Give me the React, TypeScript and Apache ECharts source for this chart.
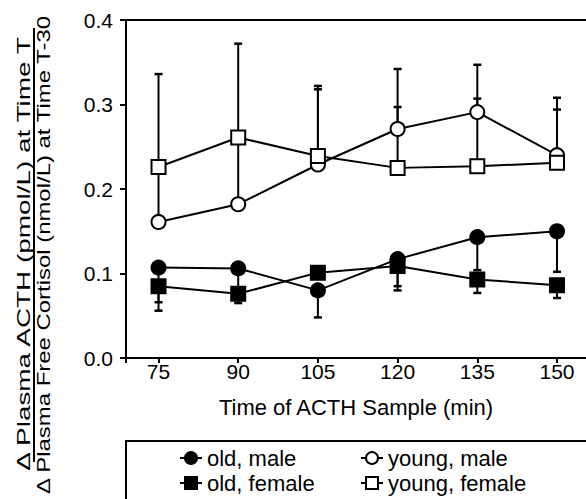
import React, { useEffect, useRef } from 'react';
import * as echarts from 'echarts';

const times = [75, 90, 105, 120, 135, 150];
const xTicks = [75, 90, 105, 120, 135, 150];
const yTicks = [0, 0.1, 0.2, 0.3, 0.4];

const oldMale = [0.107, 0.106, 0.080, 0.117, 0.143, 0.150];
const oldMaleErrEnd = [0.066, 0.080, 0.048, 0.085, 0.104, 0.102];
const oldFemale = [0.085, 0.076, 0.101, 0.109, 0.093, 0.086];
const oldFemaleErrEnd = [0.056, 0.065, 0.095, 0.080, 0.077, 0.071];
const youngMale = [0.161, 0.182, 0.229, 0.271, 0.291, 0.240];
const youngMaleErrEnd = [0.222, 0.256, 0.318, 0.342, 0.347, 0.308];
const youngFemale = [0.226, 0.261, 0.239, 0.225, 0.227, 0.231];
const youngFemaleErrEnd = [0.336, 0.372, 0.322, 0.297, 0.307, 0.294];

const names = ['old, male', 'old, female', 'young, male', 'young, female'];
const xTitle = 'Time of ACTH Sample (min)';
const yTitleTop = 'Δ Plasma ACTH (pmol/L) at Time T';
const yTitleBottom = 'Δ Plasma Free Cortisol (nmol/L) at Time T-30';

const FONT = '"Liberation Sans", Arial, Helvetica, sans-serif';

function errSeries(means: number[], ends: number[]) {
  return {
    type: 'custom',
    silent: true,
    z: 1,
    encode: { x: 0, y: [1, 2] },
    data: times.map((t, i) => [t, means[i], ends[i]]),
    renderItem: (params: any, api: any) => {
      const p0 = api.coord([api.value(0), api.value(1)]);
      const p1 = api.coord([api.value(0), api.value(2)]);
      return {
        type: 'group',
        children: [
          { type: 'line', shape: { x1: p0[0], y1: p0[1], x2: p1[0], y2: p1[1] }, style: { stroke: '#000', lineWidth: 2 } },
          { type: 'line', shape: { x1: p1[0] - 4, y1: p1[1], x2: p1[0] + 4, y2: p1[1] }, style: { stroke: '#000', lineWidth: 2.5 } },
        ],
      };
    },
  };
}

function lineSeries(name: string, vals: number[], symbol: string, size: number, filled: boolean) {
  return {
    name,
    type: 'line',
    z: 3,
    data: times.map((t, i) => [t, vals[i]]),
    symbol,
    symbolSize: size,
    showAllSymbol: true,
    lineStyle: { color: '#000', width: 2 },
    itemStyle: { color: filled ? '#000' : '#fff', borderColor: '#000', borderWidth: 2, opacity: 1 },
    emphasis: { disabled: true },
  };
}

export default function App() {
  const ref = useRef<HTMLDivElement>(null);
  useEffect(() => {
    if (!ref.current) return;
    const chart = echarts.init(ref.current, null, { renderer: 'svg' });
    const legendBase = {
      orient: 'horizontal',
      padding: 0,
      itemWidth: 22,
      itemHeight: 15,
      selectedMode: false,
      textStyle: { fontFamily: FONT, fontSize: 22, color: '#000' },
    };
    chart.setOption({
      animation: false,
      backgroundColor: '#fff',
      grid: { left: 126, top: 20, right: 0, bottom: 141, containLabel: false },
      xAxis: [
        {
          type: 'value',
          min: 68.88,
          max: 155.46,
          position: 'bottom',
          splitLine: { show: false },
          axisLine: { show: true, onZero: false, lineStyle: { color: '#000', width: 2 } },
          axisTick: { show: true, inside: false, length: 5, customValues: xTicks, lineStyle: { color: '#000', width: 2 } },
          axisLabel: { customValues: xTicks, margin: 3, fontFamily: FONT, fontSize: 21, color: '#000' },
          name: xTitle,
          nameLocation: 'middle',
          nameGap: 38,
          nameTextStyle: { fontFamily: FONT, fontSize: 22, color: '#000' },
        },
        {
          type: 'value',
          min: 68.88,
          max: 155.46,
          position: 'top',
          splitLine: { show: false },
          axisLine: { show: true, onZero: false, lineStyle: { color: '#000', width: 2 } },
          axisTick: { show: false },
          axisLabel: { show: false },
        },
      ],
      yAxis: {
        type: 'value',
        min: 0,
        max: 0.4,
        interval: 0.1,
        splitLine: { show: false },
        axisLine: { show: true, lineStyle: { color: '#000', width: 2 } },
        axisTick: { show: true, inside: false, length: 6, customValues: yTicks, lineStyle: { color: '#000', width: 2 } },
        axisLabel: { margin: 13, fontFamily: FONT, fontSize: 21, color: '#000', formatter: (v: number) => v.toFixed(1) },
      },
      legend: [
        { ...legendBase, data: [names[0]], left: 179, top: 447 },
        { ...legendBase, data: [names[1]], left: 179, top: 472 },
        { ...legendBase, data: [names[2]], left: 360, top: 447 },
        { ...legendBase, data: [names[3]], left: 360, top: 472 },
      ],
      graphic: [
        { type: 'rect', shape: { x: 126, y: 441, width: 520, height: 120 }, style: { fill: 'none', stroke: '#000', lineWidth: 2 }, silent: true },
        { type: 'line', shape: { x1: 126, y1: 357, x2: 126, y2: 363 }, style: { stroke: '#000', lineWidth: 2 }, silent: true },
        { type: 'text', x: 24, y: 254, rotation: Math.PI / 2, scaleX: 1.55, style: { text: yTitleTop, font: `18px ${FONT}`, fill: '#000', align: 'center', verticalAlign: 'middle' }, silent: true },
        { type: 'line', shape: { x1: 34, y1: 28, x2: 34, y2: 462 }, style: { stroke: '#000', lineWidth: 2 }, silent: true },
        { type: 'text', x: 44, y: 255, rotation: Math.PI / 2, scaleX: 1.33, style: { text: yTitleBottom, font: `18px ${FONT}`, fill: '#000', align: 'center', verticalAlign: 'middle' }, silent: true },
      ],
      series: [
        errSeries(oldMale, oldMaleErrEnd),
        errSeries(oldFemale, oldFemaleErrEnd),
        errSeries(youngMale, youngMaleErrEnd),
        errSeries(youngFemale, youngFemaleErrEnd),
        lineSeries(names[2], youngMale, 'circle', 14, false),
        lineSeries(names[3], youngFemale, 'rect', 14, false),
        lineSeries(names[0], oldMale, 'circle', 14, true),
        lineSeries(names[1], oldFemale, 'rect', 14, true),
      ],
    });
    return () => chart.dispose();
  }, []);
  return <div ref={ref} style={{ position: 'fixed', left: 0, top: 0, width: 586, height: 499 }} />;
}
